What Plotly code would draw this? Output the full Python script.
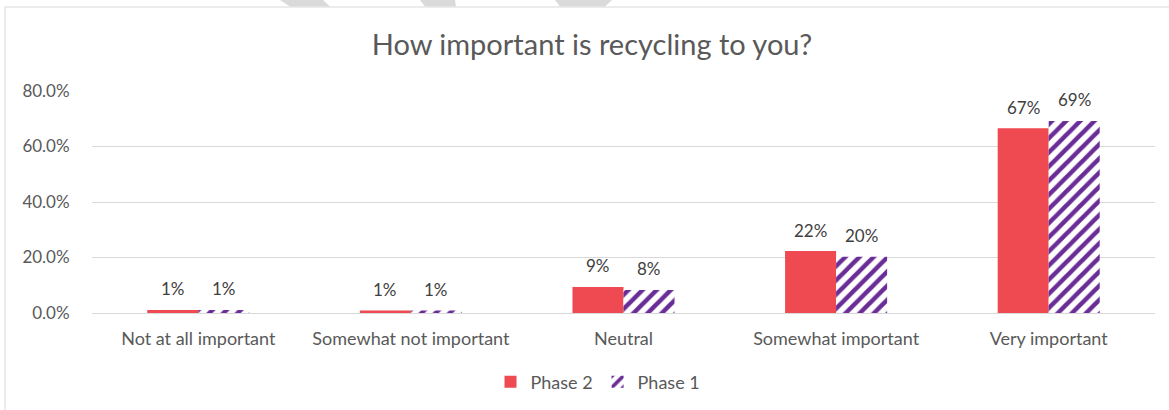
import plotly.graph_objects as go

categories = ["Not at all important", "Somewhat not important", "Neutral",
              "Somewhat important", "Very important"]
phase2 = [0.011, 0.009, 0.094, 0.223, 0.666]
phase1 = [0.011, 0.009, 0.083, 0.203, 0.692]
y_ticks = [0, 0.2, 0.4, 0.6, 0.8]
y_tick_labels = ["0.0%", "20.0%", "40.0%", "60.0%", "80.0%"]

W, H = 1169, 410
L, R, T, B = 92, 1155, 91, 313


def px(x):
    return (x - L) / (R - L)


def py(y):
    return (B - y) / (B - T)


FONT = "Lato"
TXT = "#595959"
LABEL = "#404040"
BAR_HALF = 25.5  # half bar width in px, for label placement

fig = go.Figure()
fig.add_trace(go.Bar(
    name="Phase 2", x=categories, y=phase2,
    marker=dict(color="#EF4A52", line=dict(width=0)),
))
fig.add_trace(go.Bar(
    name="Phase 1", x=categories, y=phase1,
    marker=dict(color="white", line=dict(width=0),
                pattern=dict(shape="/", fgcolor="#6A2C96", bgcolor="white",
                             size=10, solidity=0.45, fillmode="replace")),
))

annotations = []
for series, shift in ((phase2, -BAR_HALF), (phase1, BAR_HALF)):
    for cat, val in zip(categories, series):
        annotations.append(dict(
            x=cat, y=val, xref="x", yref="y", text=f"{val:.0%}",
            showarrow=False, xshift=shift, yshift=21, yanchor="middle",
            font=dict(size=17, color=LABEL, family=FONT)))

shapes = [
    dict(type="rect", xref="paper", yref="paper",
         x0=px(5), x1=px(1175), y0=py(420), y1=py(7),
         line=dict(color="#D9D9D9", width=1), fillcolor="rgba(0,0,0,0)", layer="below"),
]
# faint watermark fragments above the chart frame
for poly in [
    [(280, 0), (323, 0), (330, 6.5), (290, 6.5)],
    [(420, 0), (455, 0), (456, 6.5), (425, 6.5)],
    [(555, 0), (612, 0), (605, 6.5), (560, 6.5)],
]:
    path = "M " + " L ".join(f"{px(x)},{py(y)}" for x, y in poly) + " Z"
    shapes.append(dict(type="path", xref="paper", yref="paper", path=path,
                       fillcolor="#DADADA", line=dict(width=0), layer="below"))

fig.update_layout(
    width=W, height=H,
    margin=dict(l=L, r=W - R, t=T, b=H - B, autoexpand=False),
    paper_bgcolor="white", plot_bgcolor="white",
    font=dict(family=FONT, color=TXT, size=17),
    title=dict(text="How important is recycling to you?", x=592 / W, xref="container",
               xanchor="center", y=1 - 45 / H, yanchor="middle",
               font=dict(size=29, color=TXT, family=FONT)),
    barmode="group", bargap=0.52, bargroupgap=0,
    legend=dict(orientation="h", x=px(598), xanchor="center", y=py(382), yanchor="middle",
                font=dict(size=18, color=TXT, family=FONT),
                itemwidth=30),
    showlegend=True,
    shapes=shapes,
    annotations=annotations,
)
fig.update_yaxes(range=[0, 0.8], tickvals=y_ticks, ticktext=y_tick_labels,
                 showgrid=True, gridcolor="#D9D9D9", gridwidth=1,
                 zeroline=False, showline=False,
                 ticks="outside", ticklen=18, tickcolor="rgba(0,0,0,0)",
                 tickfont=dict(size=17, color=TXT, family=FONT))
fig.update_xaxes(showline=True, linecolor="#D9D9D9", linewidth=1,
                 ticks="outside", ticklen=9, tickcolor="rgba(0,0,0,0)",
                 tickfont=dict(size=18, color=TXT, family=FONT))

fig.write_html("out.html", config={"displayModeBar": False},
               post_script="document.body.style.margin='0';document.body.style.overflow='hidden';")
